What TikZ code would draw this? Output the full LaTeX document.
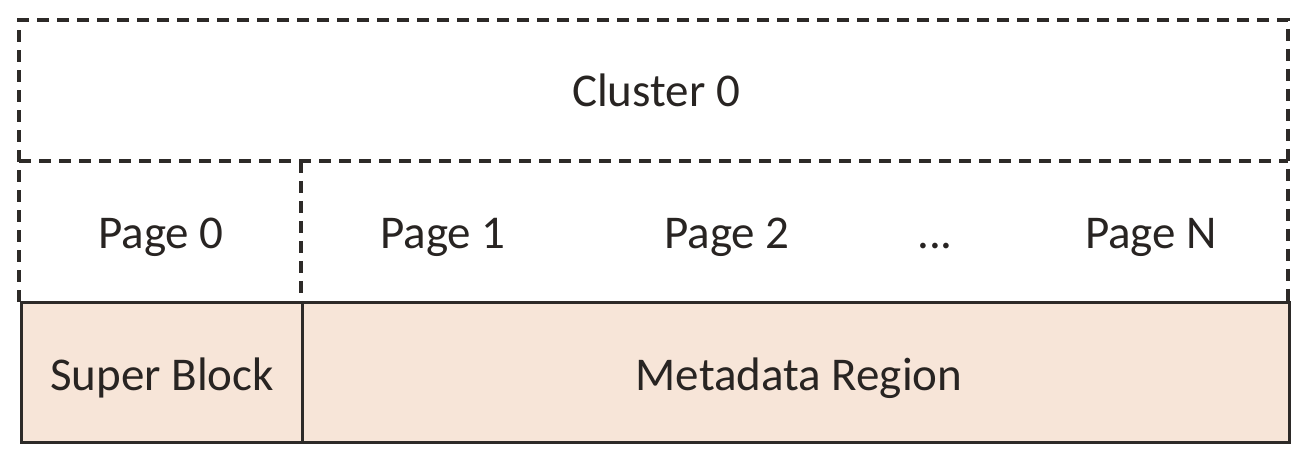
\documentclass[tikz,border=0pt]{standalone}
\usepackage{fontspec}
\setmainfont{Carlito}
\definecolor{inkgray}{RGB}{40,36,34}
\definecolor{linegray}{RGB}{45,42,40}
\definecolor{peach}{RGB}{247,229,216}
\begin{document}
\begin{tikzpicture}[x=1pt,y=-1pt,
  label text/.style={font=\fontsize{47}{50}\selectfont, text=inkgray,
    text height=30pt, text depth=0pt, inner sep=0pt},
  cell/.style={rectangle, inner sep=0pt, outer sep=0pt, draw=none},
  dashline/.style={draw=linegray, line width=3.2pt, dash pattern=on 12pt off 8pt},
  solidbox/.style={cell, draw=linegray, line width=3pt, fill=peach}]
\useasboundingbox (0,0) rectangle (1306,462);

% cluster row and the page row below it
\node[cell, minimum width=1269pt, minimum height=141pt] (cluster) at (653.5,90.5) {};
\node[cell, minimum width=282pt, minimum height=141pt] (page0) at (160,231.5) {};

% dashed outline of the cluster
\draw[dashline] (cluster.north west |- page0.south) -- (cluster.north west)
  -- (cluster.north east) -- (cluster.north east |- page0.south);
\draw[dashline] (cluster.south west) -- (cluster.south east);
\draw[dashline] (page0.north east) -- (page0.south east);

% on-disk regions
\node[solidbox, minimum width=281pt, minimum height=140pt] (super) at (161.5,372) {};
\node[solidbox, minimum width=987pt, minimum height=140pt] (meta) at (795.5,372) {};

% labels
\node[label text] (tcluster) at (656,92) {Cluster 0};
\node[label text] (tpage0) at (161,234) {Page 0};
\node[label text] (tpage1) at (443,234) {Page 1};
\node[label text] (tpage2) at (727,234) {Page 2};
\node[label text] (tdots) at (935,234) {...};
\node[label text] (tpageN) at (1151,234) {Page N};
\node[label text] (tsuper) at (162,375) {Super Block};
\node[label text] (tmeta) at (799,375) {Metadata Region};
\end{tikzpicture}
\end{document}
